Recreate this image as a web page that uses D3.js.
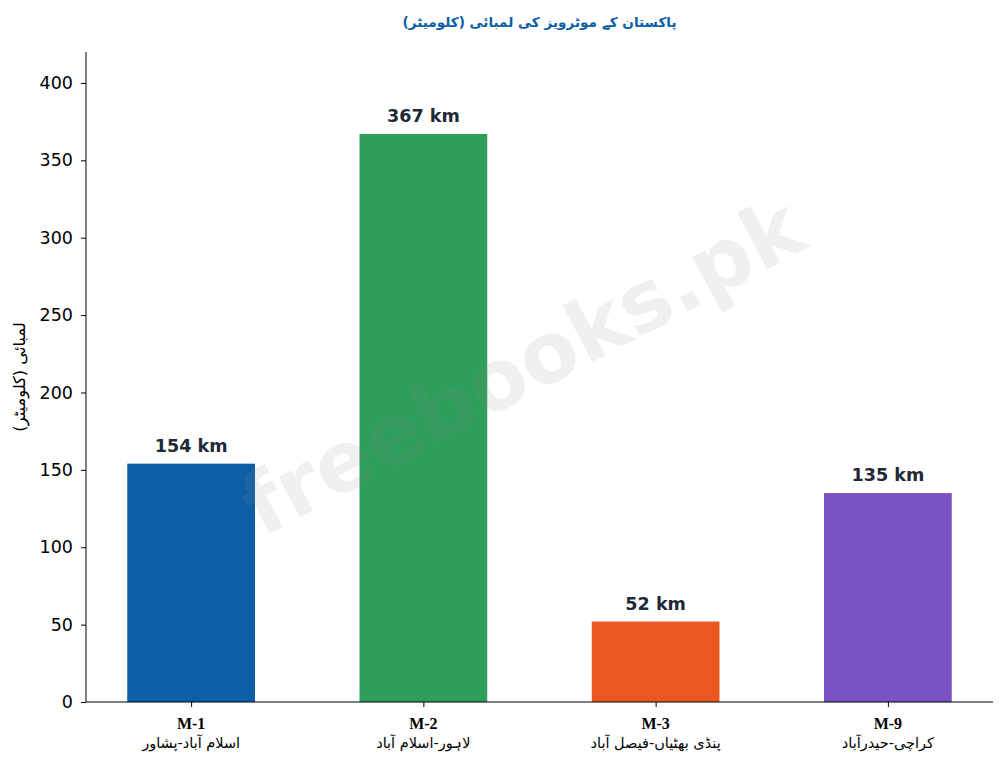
<!DOCTYPE html>
<html><head><meta charset="utf-8">
<script src="https://cdn.jsdelivr.net/npm/d3@7"></script>
<style>body{margin:0;background:#fff}</style>
</head><body>
<svg id="c" width="1005" height="765"></svg>
<script>
const codes = ["M-1", "M-2", "M-3", "M-9"];
const routes = ["اسلام آباد-پشاور", "لاہور-اسلام آباد", "پنڈی بھٹیاں-فیصل آباد", "کراچی-حیدرآباد"];
const lengths = [154, 367, 52, 135];
const colors = ["#0c5fa7", "#2e9e5b", "#e85820", "#7b52c1"];
const yTicks = [0, 50, 100, 150, 200, 250, 300, 350, 400];
const titleText = "پاکستان کے موٹرویز کی لمبائی (کلومیٹر)";
const yLabel = "لمبائی (کلومیٹر)";
const watermark = "freebooks.pk";

const svg = d3.select("#c");
const L = 86, R = 993, T = 52, B = 702;
const x = d3.scaleLinear().domain([-0.4526, codes.length - 1 + 0.4526]).range([L, R]);
const y = d3.scaleLinear().domain([0, 420]).range([B, T]);
const bw = x(0.55) - x(0);

svg.append("g").selectAll("rect").data(lengths).join("rect")
  .attr("x", (d, i) => x(i) - bw / 2).attr("width", bw)
  .attr("y", d => y(d)).attr("height", d => B - y(d))
  .attr("fill", (d, i) => colors[i]);

svg.append("g").selectAll("text").data(lengths).join("text")
  .attr("x", (d, i) => x(i)).attr("y", d => y(d) - 12)
  .attr("text-anchor", "middle")
  .attr("font-family", "DejaVu Sans").attr("font-weight", "bold").attr("font-size", 17.6)
  .attr("fill", "#1f2937")
  .text(d => d + " km");

// axes
const ya = svg.append("g").attr("transform", `translate(${L},0)`)
  .call(d3.axisLeft(y).tickValues(yTicks).tickSize(5).tickPadding(8));
ya.select(".domain").attr("d", `M0,${T}V${B}`).attr("stroke", "#000");
ya.selectAll(".tick line").attr("stroke", "#000");
ya.selectAll(".tick text").attr("font-family", "DejaVu Sans").attr("font-size", 17.5).attr("fill", "#000");

const xa = svg.append("g").attr("transform", `translate(0,${B})`)
  .call(d3.axisBottom(x).tickValues(d3.range(codes.length)).tickSize(5).tickFormat(""));
xa.select(".domain").attr("d", `M${L},0H${R}`).attr("stroke", "#000");
xa.selectAll(".tick line").attr("stroke", "#000");

const xl = svg.append("g").selectAll("g").data(codes).join("g");
xl.append("text").attr("x", (d, i) => x(i)).attr("y", 729)
  .attr("text-anchor", "middle").attr("font-family", "Liberation Serif, DejaVu Serif")
  .attr("font-weight", "bold").attr("font-size", 16).attr("fill", "#000").text(d => d);
xl.append("text").attr("x", (d, i) => x(i)).attr("y", 748)
  .attr("text-anchor", "middle").attr("font-family", "DejaVu Sans")
  .attr("font-size", 14.5).attr("fill", "#000").text((d, i) => routes[i]);

svg.append("text").attr("x", (L + R) / 2).attr("y", 27)
  .attr("text-anchor", "middle").attr("font-family", "DejaVu Sans").attr("font-weight", "bold")
  .attr("font-size", 13.6).attr("fill", "#0c5fa7").text(titleText);

svg.append("text").attr("transform", `translate(25,${(T + B) / 2}) rotate(-90)`)
  .attr("text-anchor", "middle").attr("font-family", "DejaVu Sans")
  .attr("font-size", 16.3).attr("fill", "#000").text(yLabel);

svg.append("text").attr("transform", "translate(536,392) rotate(-28)")
  .attr("text-anchor", "middle")
  .attr("font-family", "DejaVu Sans").attr("font-weight", "bold").attr("font-size", 84)
  .attr("fill", "#888").attr("fill-opacity", 0.13).text(watermark);
</script>
</body></html>
